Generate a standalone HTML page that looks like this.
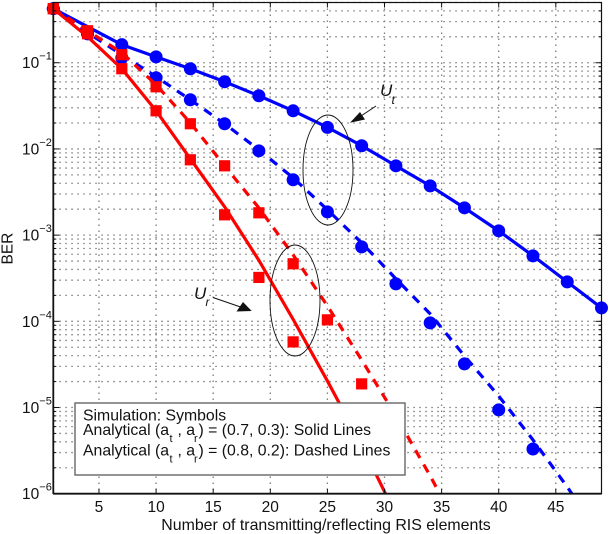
<!DOCTYPE html>
<html lang="en">
<head>
<meta charset="utf-8">
<title>BER versus number of RIS elements</title>
<style>
  html, body { margin: 0; padding: 0; background: #fff; }
  svg { display: block; font-family: "Liberation Sans", sans-serif; }
  text { fill: #111; }
</style>
</head>
<body>
<svg id="chart" xmlns="http://www.w3.org/2000/svg" width="610" height="534" viewBox="0 0 610 534">
  <defs>
    <clipPath id="plot-clip"><rect x="53.3" y="2.5" width="548.2" height="491.2"></rect></clipPath>
  </defs>
  <rect x="0" y="0" width="610" height="534" fill="#fff"></rect>
  <g id="grid"></g>
  <g id="series"></g>
  <g id="axes"></g>

  <text x="326" y="530" font-size="15.9" text-anchor="middle">Number of transmitting/reflecting RIS elements</text>
  <text transform="translate(12.5,264.5) rotate(-90)" font-size="15.5">BER</text>

  <ellipse cx="328" cy="170" rx="25" ry="55" fill="none" stroke="#111" stroke-width="0.9"></ellipse>
  <ellipse cx="295" cy="300.5" rx="25" ry="55.5" fill="none" stroke="#111" stroke-width="0.9"></ellipse>

  <g>
    <line x1="376" y1="106" x2="358" y2="118" stroke="#111" stroke-width="1"></line>
    <polygon points="350,122.7 360,112 365,119.5" fill="#111"></polygon>
    <text x="380" y="96" font-size="17" font-style="italic">U</text>
    <text x="391.5" y="104" font-size="12" font-style="italic">t</text>
  </g>
  <g>
    <line x1="213" y1="297.5" x2="242" y2="307.5" stroke="#111" stroke-width="1"></line>
    <polygon points="251.7,311 236.5,311.5 243,302" fill="#111"></polygon>
    <text x="194" y="299" font-size="17" font-style="italic">U</text>
    <text x="205.5" y="306" font-size="12" font-style="italic">r</text>
  </g>

  <g>
    <rect x="75" y="403" width="330" height="72" fill="#fff" stroke="#666" stroke-width="1.4"></rect>
    <text x="83" y="420.5" font-size="15.8">Simulation: Symbols</text>
    <g>
      <text x="83" y="435" font-size="15.8">Analytical (a</text>
      <text x="169.5" y="442" font-size="11">t</text>
      <text x="177.5" y="435" font-size="15.8">, a</text>
      <text x="194" y="442" font-size="11">r</text>
      <text x="198.5" y="435" font-size="15.8">) = (0.7, 0.3): Solid Lines</text>
    </g>
    <g>
      <text x="83" y="455.5" font-size="15.8">Analytical (a</text>
      <text x="169.5" y="462.5" font-size="11">t</text>
      <text x="177.5" y="455.5" font-size="15.8">, a</text>
      <text x="194" y="462.5" font-size="11">r</text>
      <text x="198.5" y="455.5" font-size="15.8">) = (0.8, 0.2): Dashed Lines</text>
    </g>
  </g>
</svg>

<script>
// ---- chart data ----
const xTicks = [5, 10, 15, 20, 25, 30, 35, 40, 45];
const yTickExponents = [-1, -2, -3, -4, -5, -6];
const minorDecades = [-1, -2, -3, -4, -5, -6];
const minorMultipliers = [2, 3, 4, 5, 6, 7, 8, 9];

const markerElements = [1, 4, 7, 10, 13, 16, 19, 22, 25, 28, 31, 34, 37, 40, 43, 46, 49];

const blueSolidLine = [0.424, 0.262, 0.162, 0.117, 0.0852, 0.0602, 0.0414, 0.0277, 0.0178, 0.0109, 0.00637, 0.00373, 0.00207, 0.00112, 0.000575, 0.000287, 0.000143];
const blueDashedLine = [0.424, 0.223, 0.124, 0.0688, 0.0372, 0.0196, 0.00977, 0.00462, 0.00197, 0.000814, 0.000311, 0.000122, 0.0000397, 0.0000136, 0.00000421, 0.0000012, 0.000000306];
const redSolidLine = [0.424, 0.2006, 0.0852, 0.0277, 0.00769, 0.00213, 0.00051, 0.0001053, 0.00002034, 0.00000368, 0.000000566];
const redDashedLine = [0.424, 0.235, 0.1306, 0.0555, 0.0201, 0.00637, 0.00207, 0.00059, 0.000151, 0.0000356, 0.00000798, 0.00000161, 0.00000029];

const blueSolidSim = [0.424, 0.217, 0.162, 0.117, 0.0852, 0.0602, 0.0414, 0.0277, 0.0178, 0.01088, 0.00637, 0.00373, 0.002074, 0.001122, 0.000575, 0.000287, 0.000143];
const blueDashedSim = [0.424, 0.217, 0.1143, 0.067, 0.0372, 0.0196, 0.00951, 0.00439, 0.00186, 0.000731, 0.000272, 0.0000959, 0.0000321, 0.00000938, 0.0000033];
const redSolidSim = [0.424, 0.217, 0.0852, 0.0277, 0.00748, 0.00172, 0.000323, 0.0000577];
const redDashedSim = [0.424, 0.235, 0.124, 0.0526, 0.0196, 0.00637, 0.001815, 0.000465, 0.000104, 0.0000188];

// ---- axis functions ----
const SVG_NS = 'http://www.w3.org/2000/svg';
const plotLeft = 53.3, plotRight = 601.5, plotTop = 2.5, plotBottom = 493.7;
const xMin = 1, xMax = 49, logMin = -6, logMax = Math.log10(0.5);

function xScale(v) {
  return plotLeft + (v - xMin) / (xMax - xMin) * (plotRight - plotLeft);
}
function yScale(v) {
  return plotBottom - (Math.log10(v) - logMin) / (logMax - logMin) * (plotBottom - plotTop);
}
function make(tag, attrs, parent) {
  const el = document.createElementNS(SVG_NS, tag);
  Object.keys(attrs).forEach(function (k) { el.setAttribute(k, attrs[k]); });
  parent.appendChild(el);
  return el;
}

const gridGroup = document.getElementById('grid');
const axesGroup = document.getElementById('axes');
const seriesGroup = document.getElementById('series');
const gridStyle = { stroke: '#7c7c7c', 'stroke-width': 1.3, 'stroke-dasharray': '1.5 4.5', fill: 'none' };

// grid lines
xTicks.forEach(function (t) {
  const el = make('line', Object.assign({ x1: xScale(t), x2: xScale(t), y1: plotTop, y2: plotBottom }, gridStyle), gridGroup);
  
  
});
yTickExponents.forEach(function (e) {
  if (e === -6) return;
  const y = yScale(Math.pow(10, e));
  const el = make('line', Object.assign({ x1: plotLeft, x2: plotRight, y1: y, y2: y }, gridStyle), gridGroup);
  
  
});
minorDecades.forEach(function (e) {
  minorMultipliers.forEach(function (m) {
    const v = m * Math.pow(10, e);
    if (v > 0.5) return;
    const y = yScale(v);
    const el = make('line', Object.assign({ x1: plotLeft, x2: plotRight, y1: y, y2: y }, gridStyle), gridGroup);
    
    
    const tl = make('line', { x1: plotLeft, x2: plotLeft + 3, y1: y, y2: y, stroke: '#111', 'stroke-width': 1 }, axesGroup);
    
    
    const tr = make('line', { x1: plotRight - 3, x2: plotRight, y1: y, y2: y, stroke: '#111', 'stroke-width': 1 }, axesGroup);
    
    
  });
});

// series
function drawLine(xs, ys, color, dashed, name) {
  const pts = ys.map(function (v, i) { return xScale(xs[i]).toFixed(2) + ',' + yScale(v).toFixed(2); }).join(' ');
  const attrs = { points: pts, fill: 'none', stroke: color, 'stroke-width': 3.2, 'stroke-linejoin': 'round', 'clip-path': 'url(#plot-clip)' };
  if (dashed) attrs['stroke-dasharray'] = '9 7.5';
  const el = make('polyline', attrs, seriesGroup);
  
  
}
function drawCircles(xs, ys, color, name) {
  ys.forEach(function (v, i) {
    const el = make('circle', { cx: xScale(xs[i]), cy: yScale(v), r: 6.5, fill: color }, seriesGroup);
    
    
  });
}
function drawSquares(xs, ys, color, name) {
  ys.forEach(function (v, i) {
    const el = make('rect', { x: xScale(xs[i]) - 5.6, y: yScale(v) - 5.6, width: 11.2, height: 11.2, fill: color }, seriesGroup);
    
    
  });
}
drawCircles(markerElements, blueSolidSim, '#0000ff', 'blue-solid-sim-point');
drawCircles(markerElements, blueDashedSim, '#0000ff', 'blue-dashed-sim-point');
drawLine(markerElements, blueSolidLine, '#0000ff', false, 'blue-solid-line');
drawLine(markerElements, blueDashedLine, '#0000ff', true, 'blue-dashed-line');
drawLine(markerElements, redSolidLine, '#ff0000', false, 'red-solid-line');
drawLine(markerElements, redDashedLine, '#ff0000', true, 'red-dashed-line');
drawSquares(markerElements, redSolidSim, '#ff0000', 'red-solid-sim-point');
drawSquares(markerElements, redDashedSim, '#ff0000', 'red-dashed-sim-point');

// axes frame
const frame = make('rect', { x: plotLeft, y: plotTop, width: plotRight - plotLeft, height: plotBottom - plotTop, fill: 'none', stroke: '#111', 'stroke-width': 1.2 }, axesGroup);


const leftAxis = make('line', { x1: plotLeft, x2: plotLeft, y1: plotTop, y2: plotBottom, stroke: '#111', 'stroke-width': 1.8 }, axesGroup);


const bottomAxis = make('line', { x1: plotLeft, x2: plotRight, y1: plotBottom, y2: plotBottom, stroke: '#111', 'stroke-width': 1.8 }, axesGroup);



// x ticks and labels
xTicks.forEach(function (t) {
  const x = xScale(t);
  const tb = make('line', { x1: x, x2: x, y1: plotBottom - 5, y2: plotBottom, stroke: '#111', 'stroke-width': 1 }, axesGroup);
  
  
  const tt = make('line', { x1: x, x2: x, y1: plotTop, y2: plotTop + 5, stroke: '#111', 'stroke-width': 1 }, axesGroup);
  
  
  const label = make('text', { x: x, y: 512, 'font-size': 15.5, 'text-anchor': 'middle' }, axesGroup);
  label.textContent = String(t);
  
  
});

// y ticks and labels
yTickExponents.forEach(function (e) {
  const y = yScale(Math.pow(10, e));
  const tl = make('line', { x1: plotLeft, x2: plotLeft + 6, y1: y, y2: y, stroke: '#111', 'stroke-width': 1 }, axesGroup);
  
  
  const tr = make('line', { x1: plotRight - 6, x2: plotRight, y1: y, y2: y, stroke: '#111', 'stroke-width': 1 }, axesGroup);
  
  
  const base = make('text', { x: 22, y: y + 5.5, 'font-size': 15.5 }, axesGroup);
  base.textContent = '10';
  
  
  const sup = make('text', { x: 39.3, y: y - 3, 'font-size': 11 }, axesGroup);
  sup.textContent = '\u2212' + Math.abs(e);
  
  
});
</script>
</body>
</html>
